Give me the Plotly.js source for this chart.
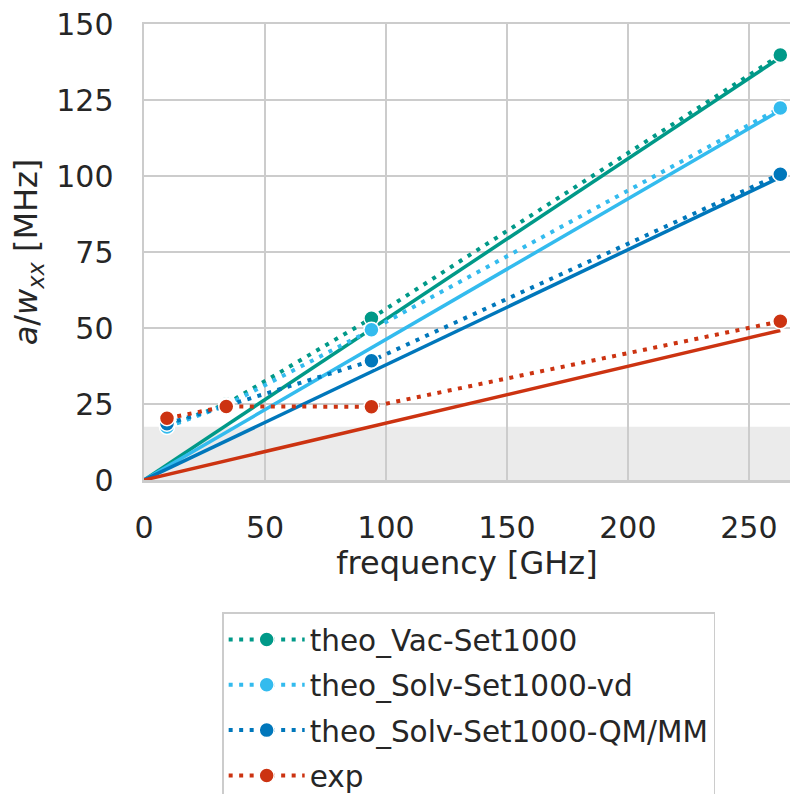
<!DOCTYPE html>
<html>
<head>
<meta charset="utf-8">
<script src="https://cdn.plot.ly/plotly-3.0.1.min.js"></script>
<style>
  html, body { margin: 0; padding: 0; background: #ffffff; }
  #chart { width: 790px; height: 794px; }
</style>
</head>
<body>
<div id="chart"></div>
<script>
// Measured hyperfine coupling a/w_xx versus spectrometer frequency
const freqTheo = [9.5, 34, 94, 263];
const freqExp = [9.5, 34, 94, 263];
const vacSet1000 = [17.6, 25.0, 53.2, 139.8];
const solvSet1000vd = [17.4, 24.6, 49.4, 122.4];
const solvSet1000qmmm = [18.5, 24.4, 39.2, 100.6];
const expValues = [20.3, 24.2, 24.1, 52.2];

// Linear fits through the origin, evaluated at the fit end points
const fitFreq = [0, 263];
const fitVac = [0, 139.0];
const fitSolvVd = [0, 121.6];
const fitSolvQmmm = [0, 99.6];
const fitExp = [0, 49.2];

// Shaded band of the detection limit
const bandLimits = [0, 17.5];

const seriesNames = ['theo_Vac-Set1000', 'theo_Solv-Set1000-vd', 'theo_Solv-Set1000-QM/MM', 'exp'];
const seriesColors = ['#009988', '#33BBEE', '#0077BB', '#CC3311'];
const xTicks = [0, 50, 100, 150, 200, 250];
const yTicks = [0, 25, 50, 75, 100, 125, 150];

const textColor = '#262626';
const gridColor = '#cccccc';
const fontFamily = 'DejaVu Sans, sans-serif';

const fitSeries = [fitVac, fitSolvVd, fitSolvQmmm, fitExp];
const pointSeries = [
  [freqTheo, vacSet1000],
  [freqTheo, solvSet1000vd],
  [freqTheo, solvSet1000qmmm],
  [freqExp, expValues]
];

const traces = [];
fitSeries.forEach((ys, i) => {
  traces.push({
    x: fitFreq, y: ys, type: 'scatter', mode: 'lines',
    line: { color: seriesColors[i], width: 3.5 },
    showlegend: false, hoverinfo: 'skip'
  });
});
pointSeries.forEach((pair, i) => {
  traces.push({
    x: pair[0], y: pair[1], type: 'scatter', mode: 'lines+markers',
    name: seriesNames[i], legendgroup: 'g' + i,
    line: { color: seriesColors[i], width: 4, dash: '4px,6.5px' },
    marker: { color: seriesColors[i], size: 15, line: { color: '#ffffff', width: 1.5 } }
  });
});

const layout = {
  width: 790, height: 794,
  margin: { l: 144, r: 0, t: 24, b: 314, autoexpand: false },
  paper_bgcolor: '#ffffff', plot_bgcolor: '#ffffff',
  font: { family: fontFamily, color: textColor, size: 29 },
  xaxis: {
    range: [0, 267], tickvals: xTicks, ticktext: xTicks.map(String),
    showgrid: true, gridcolor: gridColor, gridwidth: 2,
    showline: true, linecolor: gridColor, linewidth: 2.5, mirror: true,
    zeroline: false, ticks: '', ticklabelstandoff: 19,
    tickfont: { size: 30, color: textColor, family: fontFamily },
    title: { text: 'frequency [GHz]', font: { size: 32, color: textColor, family: fontFamily }, standoff: 5 }
  },
  yaxis: {
    range: [0, 150], tickvals: yTicks, ticktext: yTicks.map(String),
    showgrid: true, gridcolor: gridColor, gridwidth: 2,
    showline: true, linecolor: gridColor, linewidth: 2.5, mirror: false,
    zeroline: false, ticks: '', ticklabelstandoff: 22,
    tickfont: { size: 30, color: textColor, family: fontFamily },
    title: { text: '<i>a</i>/<i>w</i><sub><i>xx</i></sub> [MHz]', font: { size: 32, color: textColor, family: fontFamily }, standoff: 9 }
  },
  shapes: [{
    type: 'rect', xref: 'paper', yref: 'y', layer: 'below',
    x0: 0, x1: 1, y0: bandLimits[0], y1: bandLimits[1],
    fillcolor: '#ebebeb', line: { width: 0 }
  }],
  legend: {
    x: 0.121, y: -0.29, xanchor: 'left', yanchor: 'top',
    bgcolor: '#ffffff', bordercolor: gridColor, borderwidth: 1.5,
    font: { size: 29.5, color: textColor, family: fontFamily },
    itemwidth: 76, tracegroupgap: 4
  },
  showlegend: true
};

Plotly.newPlot('chart', traces, layout, { displayModeBar: false, staticPlot: true });
</script>
</body>
</html>
